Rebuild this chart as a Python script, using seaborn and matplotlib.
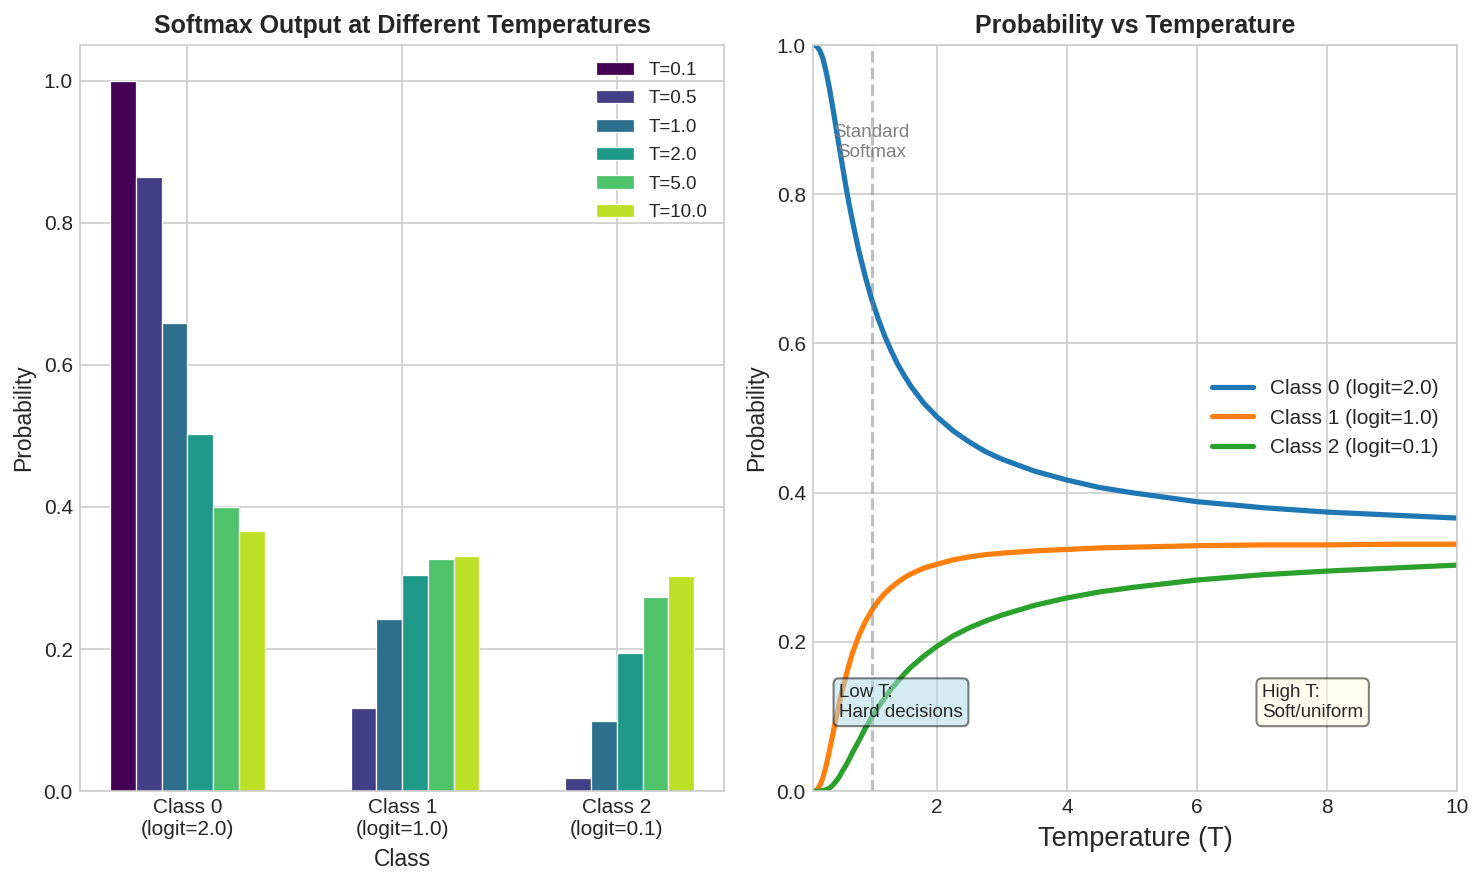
import pandas as pd
import seaborn as sns
import matplotlib.pyplot as plt

# 柱状图数据：各温度下三个类别的概率
classes = ['Class 0\n(logit=2.0)', 'Class 1\n(logit=1.0)', 'Class 2\n(logit=0.1)']
temp_labels = ['T=0.1', 'T=0.5', 'T=1.0', 'T=2.0', 'T=5.0', 'T=10.0']
probs_t01 = [1.000, 0.00005, 0.0]
probs_t05 = [0.864, 0.117, 0.019]
probs_t1 = [0.659, 0.242, 0.099]
probs_t2 = [0.502, 0.304, 0.194]
probs_t5 = [0.400, 0.327, 0.273]
probs_t10 = [0.366, 0.331, 0.303]

# 折线图数据：概率随温度的变化
temps = [0.1, 0.15, 0.2, 0.25, 0.3, 0.35, 0.4, 0.45, 0.5, 0.55, 0.6, 0.65, 0.7, 0.75, 0.8, 0.9,
         1.0, 1.1, 1.2, 1.3, 1.4, 1.5, 1.6, 1.8, 2.0, 2.25, 2.5, 2.75, 3.0, 3.5, 4.0, 4.5,
         5.0, 6.0, 7.0, 8.0, 9.0, 10.0]
p_class0 = [1.000, 0.999, 0.993, 0.982, 0.964, 0.942, 0.917, 0.890, 0.864, 0.838, 0.812, 0.788, 0.766, 0.745, 0.725, 0.690,
            0.659, 0.633, 0.610, 0.590, 0.572, 0.557, 0.543, 0.520, 0.502, 0.483, 0.468, 0.455, 0.445, 0.429, 0.417, 0.407,
            0.400, 0.388, 0.380, 0.374, 0.370, 0.366]
p_class1 = [0.000, 0.001, 0.007, 0.018, 0.034, 0.054, 0.075, 0.097, 0.117, 0.136, 0.153, 0.169, 0.184, 0.196, 0.208, 0.227,
            0.242, 0.255, 0.265, 0.273, 0.280, 0.286, 0.291, 0.299, 0.304, 0.310, 0.314, 0.317, 0.319, 0.322, 0.324, 0.326,
            0.327, 0.329, 0.330, 0.330, 0.331, 0.331]
p_class2 = [0.000, 0.000, 0.000, 0.001, 0.002, 0.004, 0.008, 0.013, 0.019, 0.027, 0.034, 0.042, 0.051, 0.059, 0.067, 0.084,
            0.099, 0.113, 0.125, 0.137, 0.147, 0.157, 0.166, 0.181, 0.194, 0.208, 0.219, 0.228, 0.236, 0.249, 0.259, 0.267,
            0.273, 0.283, 0.290, 0.295, 0.299, 0.303]
line_labels = ['Class 0 (logit=2.0)', 'Class 1 (logit=1.0)', 'Class 2 (logit=0.1)']

sns.set_style('whitegrid')
plt.rcParams['font.family'] = ['Liberation Sans', 'DejaVu Sans']
plt.rcParams['legend.frameon'] = False
plt.rcParams['xtick.major.size'] = 0
plt.rcParams['ytick.major.size'] = 0

fig, axes = plt.subplots(1, 2, figsize=(1484 / 150, 883 / 150), dpi=150)

# 左图：分组柱状图
all_probs = [probs_t01, probs_t05, probs_t1, probs_t2, probs_t5, probs_t10]
bar_df = pd.DataFrame({
    'Class': [c for _ in temp_labels for c in classes],
    'Probability': [p for probs in all_probs for p in probs],
    'Temp': [t for t in temp_labels for _ in classes],
})
cmap = sns.color_palette('viridis', as_cmap=True)
colors = [cmap(v) for v in [0.0, 0.18, 0.36, 0.54, 0.72, 0.9]]
ax = axes[0]
sns.barplot(data=bar_df, x='Class', y='Probability', hue='Temp', hue_order=temp_labels,
            palette=colors, width=0.72, edgecolor='white', linewidth=0.6, saturation=1, ax=ax)
ax.grid(True, axis='x')
ax.set_ylim(0, 1.05)
ax.set_xlabel('Class', fontsize=11)
ax.set_ylabel('Probability', fontsize=11)
ax.set_title('Softmax Output at Different Temperatures', fontsize=12, fontweight='bold')
ax.tick_params(labelsize=10)
ax.legend(loc='upper right', fontsize=9, title=None, labelspacing=0.6)

# 右图：概率-温度曲线
line_df = pd.DataFrame({
    'T': temps * 3,
    'Probability': p_class0 + p_class1 + p_class2,
    'Class': [line_labels[0]] * len(temps) + [line_labels[1]] * len(temps) + [line_labels[2]] * len(temps),
})
ax = axes[1]
sns.lineplot(data=line_df, x='T', y='Probability', hue='Class', palette=['#1f77b4', '#ff7f0e', '#2ca02c'],
             linewidth=2.5, ax=ax)
ax.axvline(1.0, color='gray', linestyle='--', alpha=0.5, linewidth=1.5)
ax.text(1.0, 0.85, 'Standard\nSoftmax', ha='center', fontsize=9, color='gray')
ax.text(0.5, 0.1, 'Low T:\nHard decisions', fontsize=9,
        bbox=dict(boxstyle='round', facecolor='lightblue', edgecolor='black', alpha=0.5))
ax.text(7, 0.1, 'High T:\nSoft/uniform', fontsize=9,
        bbox=dict(boxstyle='round', facecolor='lightyellow', edgecolor='black', alpha=0.5))
ax.set_xlim(0.1, 10)
ax.set_ylim(0, 1)
ax.set_xlabel('Temperature (T)', fontsize=13)
ax.set_ylabel('Probability', fontsize=11)
ax.set_title('Probability vs Temperature', fontsize=12, fontweight='bold')
ax.tick_params(labelsize=10)
ax.legend(loc='center right', fontsize=10, title=None)

plt.subplots_adjust(left=0.054, right=0.982, top=0.949, bottom=0.104, wspace=0.138)
plt.savefig('out.png', dpi=150)
